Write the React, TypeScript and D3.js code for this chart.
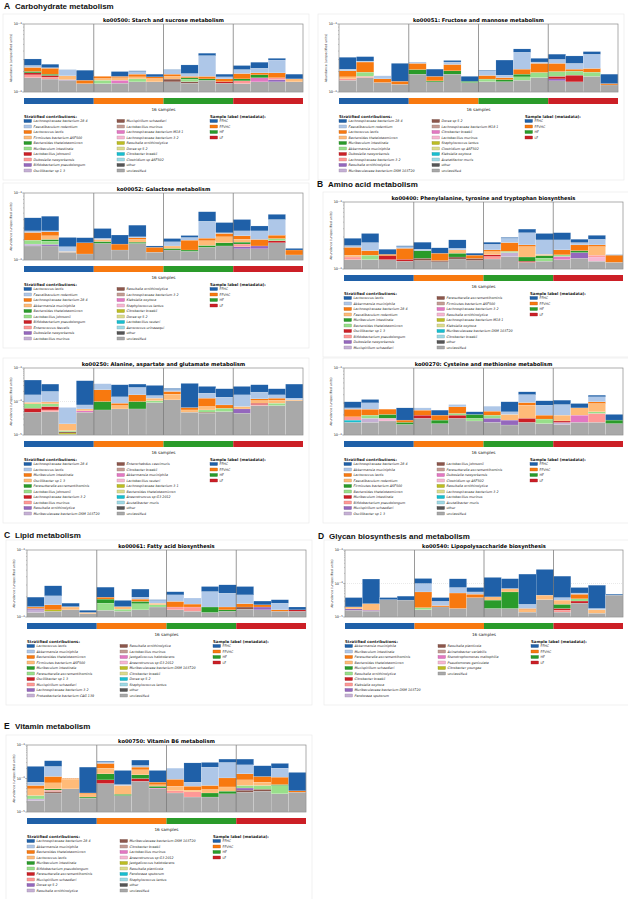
import React from "react"
import * as d3 from "d3"

// values below are in units of 1e-6 (abundance, unspecified units), 16 samples each
const groups = ["FFHC", "FFVHC", "HF", "LF"]
const groupColors = ["#1f60a8", "#f8790f", "#2a9b2a", "#cc1f26"]
const palette = [
  "#1f60a8", "#aec7e8", "#f8790f", "#ffbb78", "#2a9b2a", "#98df8a", "#cc1f26", "#ff9896",
  "#9467bd", "#c5b0d5", "#8c564b", "#c49c94", "#e377c2", "#f7b6d2", "#bcbd22", "#dbdb8d",
  "#17becf", "#9edae5",
]

const ko00500Taxa = ["Lachnospiraceae bacterium 28 4", "Faecalibaculum rodentium", "Lactococcus lactis", "Firmicutes bacterium ASF500", "Bacteroides thetaiotaomicron", "Muribaculum intestinale", "Lactobacillus johnsonii", "Dubosiella newyorkensis", "Bifidobacterium pseudolongum", "Oscillibacter sp 1 3", "Mucispirillum schaedleri", "Lactobacillus murinus", "Lachnospiraceae bacterium M18 1", "Lachnospiraceae bacterium 3 2", "Raoultella ornithinolytica", "Dorea sp 5 2", "Citrobacter braakii", "Clostridium sp ASF502", "other", "unclassified"]
const ko00500Data: [number, number[]][] = [
  [19, [163, 155, 149, 133, 133, 135, 141, 141, 141, 135, 149, 135, 133, 141, 141, 141]],
  [0, [60, 28, 1, 60, 0, 30, 5, 16, 4, 63, 29, 16, 31, 50, 18, 27]],
  [1, [16, 4, 39, 0, 0, 0, 17, 0, 26, 17, 173, 11, 27, 33, 104, 0]],
  [2, [29, 41, 0, 16, 12, 8, 16, 9, 13, 8, 14, 14, 31, 12, 29, 0]],
  [3, [0, 0, 21, 0, 9, 13, 11, 17, 15, 0, 0, 0, 0, 0, 0, 15]],
  [4, [10, 8, 0, 0, 0, 0, 0, 0, 0, 7, 7, 0, 10, 17, 0, 0]],
  [5, [0, 0, 0, 0, 16, 0, 15, 0, 0, 13, 0, 0, 0, 0, 0, 0]],
  [6, [12, 10, 0, 0, 0, 0, 0, 0, 0, 0, 0, 7, 0, 0, 0, 0]],
  [7, [16, 10, 0, 0, 0, 0, 0, 0, 0, 0, 0, 0, 13, 0, 10, 0]],
  [8, [0, 0, 3, 0, 0, 0, 0, 0, 0, 0, 0, 0, 0, 0, 11, 0]],
  [10, [0, 0, 0, 0, 0, 0, 0, 0, 14, 7, 0, 0, 0, 0, 0, 0]],
  [12, [0, 0, 0, 0, 0, 14, 0, 0, 0, 0, 0, 0, 0, 21, 0, 0]],
]

const ko00051Taxa = ["Lachnospiraceae bacterium 28 4", "Faecalibaculum rodentium", "Lactococcus lactis", "Bacteroides thetaiotaomicron", "Muribaculum intestinale", "Akkermansia muciniphila", "Dubosiella newyorkensis", "Lachnospiraceae bacterium 3 2", "Raoultella ornithinolytica", "Muribaculaceae bacterium DSM 103720", "Dorea sp 5 2", "Lachnospiraceae bacterium M18 1", "Citrobacter braakii", "Lactobacillus murinus", "Staphylococcus lentus", "Clostridium sp ASF502", "Klebsiella oxytoca", "Acetatifactor muris", "other", "unclassified"]
const ko00051Data: [number, number[]][] = [
  [19, [149, 163, 138, 130, 183, 141, 183, 138, 142, 142, 149, 163, 146, 141, 170, 127]],
  [0, [107, 46, 0, 120, 0, 47, 15, 26, 4, 118, 45, 37, 58, 75, 34, 50]],
  [1, [12, 9, 17, 0, 12, 0, 22, 0, 30, 14, 168, 12, 38, 47, 137, 0]],
  [2, [38, 80, 18, 14, 50, 24, 49, 0, 20, 11, 34, 70, 64, 14, 26, 6]],
  [3, [11, 0, 0, 0, 0, 0, 0, 0, 0, 0, 0, 0, 0, 0, 0, 0]],
  [4, [0, 0, 0, 0, 31, 5, 22, 6, 0, 10, 16, 0, 0, 0, 0, 0]],
  [5, [0, 26, 0, 0, 0, 0, 0, 0, 13, 0, 18, 31, 30, 26, 26, 0]],
  [6, [0, 0, 0, 0, 0, 0, 0, 0, 0, 0, 0, 0, 14, 36, 0, 0]],
  [7, [7, 7, 0, 0, 0, 0, 0, 0, 0, 0, 0, 0, 0, 0, 0, 0]],
  [8, [0, 0, 0, 0, 0, 0, 0, 0, 0, 0, 0, 0, 10, 0, 0, 0]],
]

const ko00052Taxa = ["Lactococcus lactis", "Faecalibaculum rodentium", "Lachnospiraceae bacterium 28 4", "Akkermansia muciniphila", "Bacteroides thetaiotaomicron", "Lactobacillus johnsonii", "Bifidobacterium pseudolongum", "Enterococcus faecalis", "Dubosiella newyorkensis", "Lactobacillus murinus", "Raoultella ornithinolytica", "Lachnospiraceae bacterium 3 2", "Klebsiella oxytoca", "Staphylococcus lentus", "Citrobacter braakii", "Dorea sp 5 2", "Lactobacillus reuteri", "Aerococcus urinaeequi", "other", "unclassified"]
const ko00052Data: [number, number[]][] = [
  [19, [162, 162, 131, 123, 177, 141, 177, 131, 141, 135, 155, 162, 147, 147, 181, 119]],
  [0, [154, 178, 59, 34, 84, 63, 109, 7, 22, 15, 145, 107, 130, 50, 78, 8]],
  [1, [14, 9, 24, 0, 8, 0, 7, 0, 25, 19, 168, 6, 42, 69, 167, 0]],
  [2, [60, 33, 0, 58, 0, 32, 12, 24, 0, 57, 18, 27, 25, 41, 26, 22]],
  [3, [0, 27, 3, 0, 14, 0, 18, 0, 13, 0, 29, 41, 20, 0, 0, 0]],
  [4, [0, 12, 0, 0, 12, 0, 8, 0, 8, 6, 10, 19, 12, 0, 0, 0]],
  [5, [25, 20, 0, 0, 0, 0, 0, 0, 0, 0, 0, 0, 0, 0, 15, 0]],
  [6, [0, 0, 0, 0, 0, 0, 0, 0, 0, 0, 0, 0, 0, 0, 13, 0]],
  [7, [0, 0, 0, 0, 0, 0, 0, 0, 0, 0, 0, 0, 15, 0, 0, 0]],
  [8, [0, 9, 0, 0, 0, 0, 0, 0, 0, 0, 0, 0, 11, 15, 0, 0]],
  [9, [11, 0, 0, 0, 0, 0, 0, 0, 0, 0, 0, 0, 0, 0, 0, 0]],
]

const ko00400Taxa = ["Lactococcus lactis", "Akkermansia muciniphila", "Lachnospiraceae bacterium 28 4", "Faecalibaculum rodentium", "Muribaculum intestinale", "Bacteroides thetaiotaomicron", "Oscillibacter sp 1 3", "Bifidobacterium pseudolongum", "Dubosiella newyorkensis", "Mucispirillum schaedleri", "Parasutterella excrementihominis", "Firmicutes bacterium ASF500", "Lachnospiraceae bacterium 3 2", "Raoultella ornithinolytica", "Lachnospiraceae bacterium M18 1", "Klebsiella oxytoca", "Muribaculaceae bacterium DSM 103720", "Citrobacter braakii", "other", "unclassified"]
const ko00400Data: [number, number[]][] = [
  [19, [138, 138, 138, 131, 134, 128, 141, 134, 141, 154, 126, 131, 138, 145, 131, 126]],
  [0, [63, 91, 31, 6, 53, 35, 68, 11, 17, 9, 46, 67, 76, 30, 40, 2]],
  [1, [13, 60, 0, 12, 10, 0, 11, 0, 41, 39, 119, 106, 79, 19, 49, 0]],
  [2, [50, 27, 8, 64, 0, 38, 0, 17, 11, 64, 13, 0, 30, 41, 13, 35]],
  [3, [10, 0, 0, 0, 0, 0, 21, 0, 19, 0, 65, 7, 0, 0, 55, 0]],
  [4, [0, 0, 0, 0, 43, 0, 21, 0, 0, 0, 20, 14, 0, 12, 0, 0]],
  [5, [0, 23, 0, 0, 0, 0, 0, 0, 0, 8, 0, 14, 9, 0, 0, 0]],
  [6, [0, 0, 20, 9, 0, 0, 0, 0, 9, 0, 5, 0, 0, 0, 0, 0]],
  [7, [13, 0, 0, 0, 0, 0, 0, 0, 13, 0, 0, 0, 0, 0, 10, 0]],
  [8, [0, 0, 0, 0, 0, 0, 0, 0, 0, 0, 0, 0, 0, 31, 0, 0]],
  [9, [0, 0, 0, 0, 0, 0, 0, 0, 0, 22, 0, 0, 0, 0, 0, 0]],
  [10, [0, 0, 0, 0, 11, 6, 10, 10, 0, 0, 0, 0, 0, 0, 0, 0]],
  [12, [0, 0, 0, 0, 0, 0, 0, 0, 0, 0, 0, 0, 16, 0, 0, 0]],
  [13, [0, 0, 0, 0, 0, 0, 0, 0, 0, 0, 0, 0, 0, 0, 20, 0]],
]

const ko00250Taxa = ["Lachnospiraceae bacterium 28 4", "Lactococcus lactis", "Muribaculum intestinale", "Oscillibacter sp 1 3", "Parasutterella excrementihominis", "Lactobacillus johnsonii", "Lachnospiraceae bacterium 3 2", "Lactobacillus murinus", "Raoultella ornithinolytica", "Muribaculaceae bacterium DSM 103720", "Enterorhabdus caecimuris", "Citrobacter braakii", "Akkermansia muciniphila", "Lactobacillus reuteri", "Lachnospiraceae bacterium 3 1", "Bacteroides thetaiotaomicron", "Anaerotruncus sp G3 2012", "Acutalibacter muris", "other", "unclassified"]
const ko00250Data: [number, number[]][] = [
  [19, [48, 50, 10.5, 48, 56, 60, 60, 93, 112, 48, 45, 50, 45, 76, 76, 105]],
  [0, [279, 131, 0, 338, 0, 178, 67, 151, 16, 281, 104, 105, 124, 125, 82, 205]],
  [1, [63, 102, 45, 19, 115, 49, 106, 25, 29, 0, 52, 56, 87, 71, 32, 14]],
  [2, [0, 5, 0, 0, 124, 13, 58, 0, 34, 10, 55, 16, 0, 13, 17, 0]],
  [3, [10, 8, 8, 7, 0, 16, 0, 20, 54, 8, 15, 0, 11, 18, 20, 7]],
  [4, [0, 0, 0, 0, 44, 0, 40, 0, 0, 0, 0, 0, 0, 0, 0, 0]],
  [5, [22, 14, 1, 0, 0, 0, 0, 13, 0, 0, 8, 13, 0, 0, 13, 0]],
  [6, [15, 15, 0, 0, 0, 0, 0, 0, 0, 0, 0, 0, 0, 8, 0, 0]],
  [7, [0, 6, 0, 0, 0, 0, 0, 0, 0, 0, 0, 0, 0, 5, 0, 0]],
  [8, [0, 0, 0, 0, 0, 0, 0, 0, 0, 0, 0, 0, 15, 0, 0, 0]],
  [10, [0, 0, 1, 0, 0, 0, 0, 0, 0, 0, 3, 0, 0, 0, 0, 0]],
  [12, [0, 0, 0, 5, 0, 0, 0, 0, 0, 0, 0, 0, 0, 0, 0, 0]],
  [14, [0, 0, 1, 0, 0, 0, 0, 0, 0, 0, 0, 0, 0, 0, 0, 0]],
]

const ko00270Taxa = ["Lachnospiraceae bacterium 28 4", "Akkermansia muciniphila", "Lactococcus lactis", "Faecalibaculum rodentium", "Firmicutes bacterium ASF500", "Bacteroides thetaiotaomicron", "Muribaculum intestinale", "Bifidobacterium pseudolongum", "Mucispirillum schaedleri", "Oscillibacter sp 1 3", "Lactobacillus johnsonii", "Parasutterella excrementihominis", "Dubosiella newyorkensis", "Clostridium sp ASF502", "Raoultella ornithinolytica", "Lachnospiraceae bacterium 3 2", "Lactobacillus murinus", "Acutalibacter muris", "other", "unclassified"]
const ko00270Data: [number, number[]][] = [
  [19, [155, 155, 162, 144, 178, 148, 178, 162, 155, 141, 155, 148, 144, 155, 155, 148]],
  [0, [59, 37, 0, 87, 0, 37, 0, 19, 0, 91, 40, 45, 46, 41, 21, 36]],
  [1, [11, 59, 0, 0, 19, 0, 22, 0, 42, 19, 96, 81, 87, 0, 59, 0]],
  [2, [56, 45, 40, 12, 37, 31, 53, 0, 29, 0, 26, 25, 0, 0, 18, 0]],
  [3, [0, 0, 0, 0, 0, 0, 0, 0, 0, 36, 101, 0, 36, 56, 73, 0]],
  [4, [0, 0, 25, 11, 0, 19, 0, 25, 0, 0, 0, 0, 0, 0, 0, 19]],
  [5, [0, 20, 0, 0, 0, 0, 12, 16, 20, 0, 0, 25, 0, 0, 12, 0]],
  [6, [0, 0, 0, 0, 20, 0, 20, 0, 0, 0, 23, 0, 8, 0, 0, 0]],
  [7, [20, 0, 0, 0, 0, 0, 0, 0, 0, 0, 0, 0, 0, 0, 55, 0]],
  [8, [0, 0, 0, 0, 0, 0, 0, 0, 23, 26, 0, 0, 0, 0, 0, 0]],
  [9, [0, 23, 0, 0, 0, 0, 0, 0, 0, 0, 0, 0, 10, 0, 0, 0]],
  [12, [0, 0, 0, 0, 0, 0, 0, 0, 0, 0, 0, 0, 0, 43, 0, 0]],
  [13, [0, 0, 16, 0, 0, 0, 0, 0, 0, 0, 0, 0, 0, 0, 0, 0]],
  [16, [12, 0, 0, 0, 0, 0, 0, 0, 0, 0, 0, 0, 0, 0, 0, 0]],
]

const ko00061Taxa = ["Lactococcus lactis", "Akkermansia muciniphila", "Bacteroides thetaiotaomicron", "Firmicutes bacterium ASF500", "Muribaculum intestinale", "Parasutterella excrementihominis", "Oscillibacter sp 1 3", "Mucispirillum schaedleri", "Lachnospiraceae bacterium 3 2", "Proteobacteria bacterium CAG 139", "Raoultella ornithinolytica", "Lactobacillus murinus", "Jeotgalicoccus halotolerans", "Anaerotruncus sp G3 2012", "Muribaculaceae bacterium DSM 103720", "Citrobacter braakii", "Dorea sp 5 2", "Staphylococcus lentus", "other", "unclassified"]
const ko00061Data: [number, number[]][] = [
  [19, [117, 122, 128, 112, 126, 122, 128, 141, 128, 122, 117, 122, 131, 128, 122, 122]],
  [0, [55, 85, 18, 9, 81, 34, 63, 4, 24, 0, 45, 75, 71, 21, 20, 13]],
  [1, [2, 55, 2, 0, 0, 0, 13, 16, 43, 36, 99, 86, 56, 0, 33, 0]],
  [2, [7, 24, 0, 0, 13, 0, 14, 0, 30, 15, 0, 13, 17, 11, 6, 0]],
  [3, [0, 0, 13, 5, 0, 12, 0, 9, 0, 0, 0, 0, 0, 0, 0, 0]],
  [4, [0, 0, 0, 0, 24, 0, 13, 0, 0, 0, 24, 6, 0, 0, 0, 0]],
  [5, [0, 0, 0, 0, 35, 9, 30, 11, 0, 0, 0, 0, 0, 0, 0, 0]],
  [6, [0, 0, 0, 0, 0, 0, 0, 0, 0, 0, 0, 0, 0, 0, 0, 6]],
  [7, [0, 0, 0, 0, 0, 0, 0, 0, 13, 19, 0, 0, 0, 0, 0, 0]],
  [8, [6, 0, 0, 0, 0, 0, 0, 0, 0, 0, 0, 0, 0, 13, 0, 0]],
  [9, [11, 0, 0, 0, 0, 0, 0, 0, 0, 0, 0, 0, 0, 0, 0, 0]],
  [10, [0, 0, 0, 0, 0, 0, 0, 0, 0, 0, 0, 0, 10, 0, 0, 0]],
  [14, [0, 6, 0, 0, 0, 0, 0, 0, 0, 0, 0, 0, 0, 0, 0, 0]],
]

const ko00540Taxa = ["Akkermansia muciniphila", "Muribaculum intestinale", "Parasutterella excrementihominis", "Bacteroides thetaiotaomicron", "Mucispirillum schaedleri", "Raoultella ornithinolytica", "Citrobacter braakii", "Klebsiella oxytoca", "Muribaculaceae bacterium DSM 103720", "Pandoraea sputorum", "Raoultella planticola", "Acinetobacter variabilis", "Stenotrophomonas maltophilia", "Pseudomonas geniculata", "Citrobacter youngae", "unclassified"]
const ko00540Data: [number, number[]][] = [
  [15, [16, 15, 33, 32, 16.6, 20, 18, 38, 18, 18, 14, 33, 14, 26, 13, 45]],
  [0, [18, 111, 5, 10, 41, 8.5, 62, 20, 112, 68, 167, 218, 128, 24, 71, 3]],
  [1, [0, 0, 0, 0, 44, 7.5, 24, 8, 0, 2, 6, 0, 6, 4, 1.4, 0]],
  [2, [0, 0, 0, 0, 37, 2, 34, 10, 0, 0, 1.4, 0, 0, 13, 0, 0]],
  [3, [2.5, 9, 0, 0, 0, 0, 0, 0, 8, 13, 2.6, 12, 8, 0, 3.6, 0]],
  [4, [0, 0, 0, 0, 0, 0, 0, 0, 14, 38, 0, 0, 6, 0, 0, 0]],
  [5, [0, 0, 0, 0, 2.4, 0, 0, 0, 0, 0, 0, 0, 0, 5, 0, 0]],
  [6, [0, 0, 0, 0, 0, 0, 0, 0, 0, 0, 0, 0, 2, 4, 0, 0]],
  [7, [0, 0, 0, 0, 0, 0, 0, 0, 0, 0, 0, 0, 2, 0, 0, 0]],
  [8, [1.5, 1, 0, 0, 0, 0, 0, 0, 0, 0, 0, 0, 0, 0, 0, 0]],
]

const ko00750Taxa = ["Lachnospiraceae bacterium 28 4", "Akkermansia muciniphila", "Bacteroides thetaiotaomicron", "Lactococcus lactis", "Muribaculum intestinale", "Bifidobacterium pseudolongum", "Parasutterella excrementihominis", "Mucispirillum schaedleri", "Dorea sp 5 2", "Raoultella ornithinolytica", "Muribaculaceae bacterium DSM 103720", "Citrobacter braakii", "Lactobacillus murinus", "Anaerotruncus sp G3 2012", "Jeotgalicoccus halotolerans", "Raoultella planticola", "Pandoraea sputorum", "Staphylococcus lentus", "other", "unclassified"]
const ko00750Data: [number, number[]][] = [
  [19, [22, 37, 49, 26, 71, 31, 83, 49, 37, 28, 28, 35, 39, 42, 35, 39]],
  [0, [152, 109, 0, 182, 15, 108, 110, 96, 0, 214, 83, 78, 124, 125, 78, 109]],
  [1, [16, 115, 0, 0, 34, 4, 26, 0, 109, 19, 157, 198, 118, 0, 94, 0]],
  [2, [13, 41, 4, 2, 78, 0, 37, 13, 36, 14, 15, 48, 47, 37, 44, 4]],
  [3, [18, 25, 47, 7, 66, 28, 53, 6, 16, 5, 10, 14, 29, 16, 0, 0]],
  [4, [0, 4, 0, 2, 47, 3, 29, 7, 0, 0, 9, 7, 0, 0, 4, 0]],
  [5, [6.5, 0, 0, 0, 0, 0, 0, 0, 0, 0, 0, 0, 10, 14, 27, 0]],
  [6, [0, 0, 0, 0, 20, 0, 17, 0, 0, 0, 0, 0, 0, 0, 0, 0]],
  [7, [0, 4, 0, 0, 0, 0, 0, 0, 6, 12, 0, 0, 0, 0, 0, 0]],
  [8, [0, 0, 0, 0, 0, 0, 0, 0, 0, 0, 0, 0, 7, 0, 0, 0]],
  [9, [2.5, 0, 0, 0, 0, 0, 0, 0, 0, 0, 0, 0, 0, 0, 0, 0]],
  [10, [0, 4, 0, 0, 0, 0, 0, 0, 0, 0, 0, 0, 6, 6, 0, 0]],
  [12, [0, 0, 0, 0, 0, 0, 0, 3, 0, 0, 0, 0, 0, 0, 0, 0]],
]

type PanelSpec = {
  title: string
  taxa: string[]
  data: [number, number[]][]
  x0: number
  x1: number
  y0: number
  y1: number
  lo: number
}

const panels: PanelSpec[] = [
  { title: "ko00500: Starch and sucrose metabolism", taxa: ko00500Taxa, data: ko00500Data, x0: 24, x1: 303, y0: 24, y1: 92, lo: 1e-4 },
  { title: "ko00051: Fructose and mannose metabolism", taxa: ko00051Taxa, data: ko00051Data, x0: 339, x1: 618, y0: 24, y1: 92, lo: 1e-4 },
  { title: "ko00052: Galactose metabolism", taxa: ko00052Taxa, data: ko00052Data, x0: 24, x1: 303, y0: 193, y1: 260, lo: 1e-4 },
  { title: "ko00400: Phenylalanine, tyrosine and tryptophan biosynthesis", taxa: ko00400Taxa, data: ko00400Data, x0: 344, x1: 623, y0: 202, y1: 269, lo: 1e-4 },
  { title: "ko00250: Alanine, aspartate and glutamate metabolism", taxa: ko00250Taxa, data: ko00250Data, x0: 24, x1: 303, y0: 368, y1: 435, lo: 1e-5 },
  { title: "ko00270: Cysteine and methionine metabolism", taxa: ko00270Taxa, data: ko00270Data, x0: 344, x1: 623, y0: 368, y1: 435, lo: 1e-4 },
  { title: "ko00061: Fatty acid biosynthesis", taxa: ko00061Taxa, data: ko00061Data, x0: 27, x1: 306, y0: 550, y1: 617, lo: 1e-4 },
  { title: "ko00540: Lipopolysaccharide biosynthesis", taxa: ko00540Taxa, data: ko00540Data, x0: 345, x1: 623, y0: 550, y1: 617, lo: 1e-5 },
  { title: "ko00750: Vitamin B6 metabolism", taxa: ko00750Taxa, data: ko00750Data, x0: 27, x1: 306, y0: 745, y1: 812, lo: 1e-5 },
]

const headings = [
  { letter: "A", text: "Carbohydrate metabolism", x: 4, y: 9 },
  { letter: "B", text: "Amino acid metabolism", x: 317, y: 187 },
  { letter: "C", text: "Lipid metabolism", x: 4, y: 538 },
  { letter: "D", text: "Glycan biosynthesis and metabolism", x: 318, y: 539 },
  { letter: "E", text: "Vitamin metabolism", x: 4, y: 729 },
]

const font = "DejaVu Sans, sans-serif"

const colorOf = (name: string, i: number) =>
  name === "unclassified" ? "#a9a9a9" : name === "other" ? "#555555" : palette[i % palette.length]

const Panel = ({ p }: { p: PanelSpec }) => {
  const x = d3.scaleBand<number>().domain(d3.range(16)).range([p.x0, p.x1]).padding(0)
  const y = d3.scaleLog().domain([p.lo, 1e-3]).range([p.y1, p.y0]).clamp(true)
  const order = [...p.data].sort((a, b) => b[0] - a[0])
  const bars: JSX.Element[] = []
  for (let s = 0; s < 16; s++) {
    let cum = 0
    order.forEach(([ti, vals]) => {
      const v = vals[s] * 1e-6
      if (!v) return
      const top = cum + v
      const yb = cum === 0 ? p.y1 : y(cum)
      const yt = y(top)
      bars.push(
        <rect key={`${s}-${ti}`} x={x(s)} y={yt} width={x.bandwidth()} height={Math.max(0, yb - yt)}
          fill={colorOf(p.taxa[ti], ti)} stroke="#ffffff" strokeWidth={0.25} strokeOpacity={0.6} />
      )
      cum = top
    })
  }
  const lo = Math.round(Math.log10(p.lo))
  const majors = d3.range(lo, -2).map(k => Math.pow(10, k))
  const minors: number[] = []
  d3.range(lo, -3).forEach(k => d3.range(2, 10).forEach(m => minors.push(m * Math.pow(10, k))))
  const row = 5.5
  const legY = p.y1 + 24
  const n1 = 10
  const midY = (p.y0 + p.y1) / 2
  return (
    <g fontFamily={font}>
      <rect x={p.x0 - 21} y={p.y0 - 10} width={p.x1 - p.x0 + 27} height={p.y1 - p.y0 + 98}
        fill="none" stroke="#e8e8e8" strokeWidth={0.6} />
      <text x={(p.x0 + p.x1) / 2} y={p.y0 - 2.5} textAnchor="middle" fontSize={5.2} fontWeight="bold">{p.title}</text>
      {majors.slice(1, -1).map(v => (
        <line key={v} x1={p.x0} x2={p.x1} y1={y(v)} y2={y(v)} stroke="#c8c8c8" strokeWidth={0.4} strokeDasharray="1,1" />
      ))}
      {bars}
      {[4, 8, 12].map(i => (
        <line key={i} x1={x(i)} x2={x(i)} y1={p.y0} y2={p.y1} stroke="#555" strokeWidth={0.6} />
      ))}
      <rect x={p.x0} y={p.y0} width={p.x1 - p.x0} height={p.y1 - p.y0} fill="none" stroke="#8a8a8a" strokeWidth={0.7} />
      {minors.map(v => (
        <line key={v} x1={p.x0 - 1} x2={p.x0} y1={y(v)} y2={y(v)} stroke="#666" strokeWidth={0.3} />
      ))}
      {majors.map(v => (
        <g key={v}>
          <line x1={p.x0 - 1.8} x2={p.x0} y1={y(v)} y2={y(v)} stroke="#555" strokeWidth={0.4} />
          <text x={p.x0 - 2.2} y={y(v) + 1.3} textAnchor="end" fontSize={3.5} fill="#222">
            10<tspan dy={-1.4} fontSize={2.5}>{`\u2212${-Math.round(Math.log10(v))}`}</tspan>
          </text>
        </g>
      ))}
      <text transform={`translate(${p.x0 - 12},${midY}) rotate(-90)`} textAnchor="middle" fontSize={3.2} fill="#333">
        Abundance (unspecified units)
      </text>
      {groups.map((g, i) => (
        <rect key={g} x={x(i * 4)} y={p.y1 + 6} width={x.bandwidth() * 4} height={6} fill={groupColors[i]} />
      ))}
      <text x={(p.x0 + p.x1) / 2} y={p.y1 + 18.5} textAnchor="middle" fontSize={4.2} fill="#222">16 samples</text>
      <text x={p.x0} y={legY + 1.5} fontSize={3.9} fontWeight="bold" fill="#222">Stratified contributions:</text>
      {p.taxa.map((t, i) => {
        const cx = i < n1 ? p.x0 : p.x0 + 93
        const cy = legY + 5 + (i % n1) * row
        const c = colorOf(t, i)
        const plain = t === "other" || t === "unclassified"
        return (
          <g key={t + i}>
            <rect x={cx} y={cy - 1.5} width={7.5} height={3} fill={c} stroke={d3.color(c)!.darker(0.8).toString()} strokeWidth={0.35} />
            <text x={cx + 9.5} y={cy + 1.2} fontSize={3.3} fontStyle={plain ? "normal" : "italic"} fill="#222">{t}</text>
          </g>
        )
      })}
      <text x={p.x0 + 186} y={legY + 1.5} fontSize={3.9} fontWeight="bold" fill="#222">Sample label (metadata):</text>
      {groups.map((g, i) => {
        const cy = legY + 5 + i * row
        return (
          <g key={g}>
            <rect x={p.x0 + 186} y={cy - 1.5} width={7.5} height={3} fill={groupColors[i]} stroke={d3.color(groupColors[i])!.darker(0.8).toString()} strokeWidth={0.35} />
            <text x={p.x0 + 195.5} y={cy + 1.2} fontSize={3.3} fill="#222">{g}</text>
          </g>
        )
      })}
    </g>
  )
}

export default function App() {
  return (
    <svg width={628} height={899} style={{ position: "absolute", left: 0, top: 0, background: "#fff" }}>
      <rect width={628} height={899} fill="#fff" />
      {headings.map(h => (
        <g key={h.letter} fontFamily="Liberation Sans, Arial, sans-serif" fontWeight="bold" fill="#111">
          <text x={h.x} y={h.y} fontSize={8.5}>{h.letter}</text>
          <text x={h.x + 11} y={h.y} fontSize={8}>{h.text}</text>
        </g>
      ))}
      {panels.map(p => <Panel key={p.title} p={p} />)}
    </svg>
  )
}
